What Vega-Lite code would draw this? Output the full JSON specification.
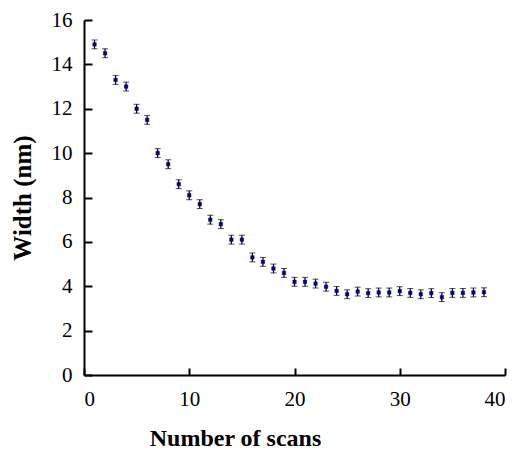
{
  "$schema": "https://vega.github.io/schema/vega-lite/v6.json",
  "width": 421,
  "height": 355,
  "autosize": {"type": "none"},
  "padding": {"left": 84, "top": 20, "right": 17, "bottom": 75},
  "background": "white",
  "config": {"view": {"stroke": null}, "font": "serif"},
  "data": {"values": [
    {"scan": 1, "width": 14.9, "err": 0.2},
    {"scan": 2, "width": 14.5, "err": 0.2},
    {"scan": 3, "width": 13.3, "err": 0.2},
    {"scan": 4, "width": 13.0, "err": 0.2},
    {"scan": 5, "width": 12.0, "err": 0.2},
    {"scan": 6, "width": 11.5, "err": 0.2},
    {"scan": 7, "width": 10.0, "err": 0.2},
    {"scan": 8, "width": 9.5, "err": 0.2},
    {"scan": 9, "width": 8.6, "err": 0.2},
    {"scan": 10, "width": 8.1, "err": 0.2},
    {"scan": 11, "width": 7.7, "err": 0.2},
    {"scan": 12, "width": 7.0, "err": 0.2},
    {"scan": 13, "width": 6.8, "err": 0.2},
    {"scan": 14, "width": 6.1, "err": 0.2},
    {"scan": 15, "width": 6.1, "err": 0.2},
    {"scan": 16, "width": 5.3, "err": 0.2},
    {"scan": 17, "width": 5.1, "err": 0.2},
    {"scan": 18, "width": 4.8, "err": 0.2},
    {"scan": 19, "width": 4.6, "err": 0.2},
    {"scan": 20, "width": 4.2, "err": 0.2},
    {"scan": 21, "width": 4.2, "err": 0.2},
    {"scan": 22, "width": 4.12, "err": 0.2},
    {"scan": 23, "width": 3.98, "err": 0.2},
    {"scan": 24, "width": 3.79, "err": 0.2},
    {"scan": 25, "width": 3.64, "err": 0.2},
    {"scan": 26, "width": 3.76, "err": 0.2},
    {"scan": 27, "width": 3.69, "err": 0.2},
    {"scan": 28, "width": 3.72, "err": 0.2},
    {"scan": 29, "width": 3.72, "err": 0.2},
    {"scan": 30, "width": 3.78, "err": 0.2},
    {"scan": 31, "width": 3.7, "err": 0.2},
    {"scan": 32, "width": 3.64, "err": 0.2},
    {"scan": 33, "width": 3.69, "err": 0.2},
    {"scan": 34, "width": 3.51, "err": 0.2},
    {"scan": 35, "width": 3.7, "err": 0.2},
    {"scan": 36, "width": 3.7, "err": 0.2},
    {"scan": 37, "width": 3.72, "err": 0.2},
    {"scan": 38, "width": 3.73, "err": 0.2}
  ]},
  "encoding": {
    "x": {
      "field": "scan", "type": "quantitative",
      "scale": {"domain": [0, 40], "nice": false},
      "axis": {
        "title": "Number of scans", "values": [0, 10, 20, 30, 40],
        "grid": false, "domainColor": "black", "domainWidth": 2,
        "tickColor": "black", "tickWidth": 2, "tickSize": -7,
        "labelPadding": 20, "labelFont": "'Liberation Serif', serif", "labelFontSize": 21, "labelColor": "black",
        "titleFont": "'Liberation Serif', serif", "titleFontSize": 24, "titleFontWeight": "bold", "titleColor": "black",
        "titlePadding": 17, "titleX": 151, "titleAnchor": null
      }
    },
    "y": {
      "field": "width", "type": "quantitative",
      "scale": {"domain": [0, 16], "nice": false},
      "axis": {
        "title": "Width (nm)", "values": [0, 2, 4, 6, 8, 10, 12, 14, 16],
        "grid": false, "domainColor": "black", "domainWidth": 2,
        "tickColor": "black", "tickWidth": 2, "tickSize": -8,
        "labelPadding": 20, "labelFont": "'Liberation Serif', serif", "labelFontSize": 21, "labelColor": "black",
        "titleFont": "'Liberation Serif', serif", "titleFontSize": 25, "titleFontWeight": "bold", "titleColor": "black",
        "titlePadding": 16
      }
    }
  },
  "layer": [
    {
      "mark": {"type": "errorbar", "ticks": {"size": 6, "color": "black", "strokeWidth": 1.5}, "rule": {"color": "black", "strokeWidth": 1.2}},
      "encoding": {"yError": {"field": "err"}}
    },
    {
      "mark": {"type": "square", "filled": true, "color": "#0000a0", "size": 12, "stroke": "#000050", "strokeWidth": 0.5, "opacity": 1}
    }
  ]
}
